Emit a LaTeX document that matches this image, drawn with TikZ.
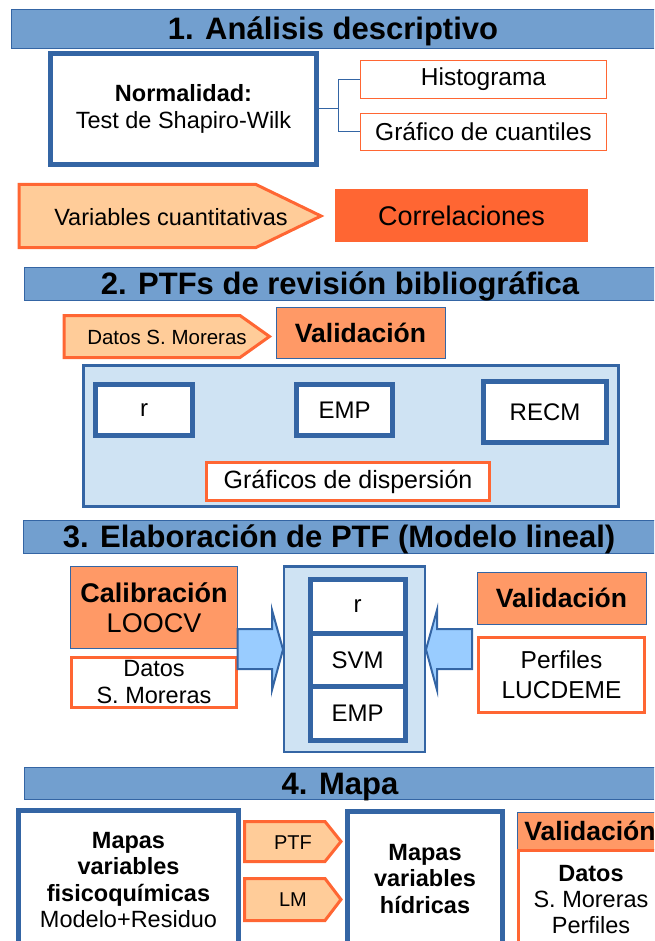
\documentclass[tikz,border=0pt]{standalone}
\usepackage{fontspec}
\setmainfont{Liberation Sans}
\usetikzlibrary{positioning}

\definecolor{azulbarra}{HTML}{729FCF}
\definecolor{azul}{HTML}{3465A4}
\definecolor{naranja}{HTML}{FF6633}
\definecolor{naranjaclaro}{HTML}{FFCC99}
\definecolor{salmon}{HTML}{FF9966}
\definecolor{celeste}{HTML}{CFE3F3}
\definecolor{flechaazul}{HTML}{99CCFF}

\newcommand{\tam}[2]{\fontsize{#1}{#2}\selectfont}

\tikzset{
  barra/.style={draw=azul, line width=0.8pt, fill=azulbarra, inner sep=0pt,
    minimum width=632pt, minimum height=33pt, text height=22pt, text depth=0pt,
    font=\tam{31}{36}\bfseries},
  caja/.style={draw=azul, line width=5pt, fill=white, inner sep=0pt,
    outer sep=0pt, align=center},
  marco/.style={draw=naranja, line width=3pt, fill=white, inner sep=0pt, align=center},
  fino/.style={draw=naranja, line width=1.2pt, fill=white, inner sep=0pt},
  valida/.style={draw=azul, line width=0.8pt, fill=salmon, inner sep=0pt, align=center},
  fondo/.style={draw=azul, line width=2.5pt, fill=celeste},
  punta/.style={draw=naranja, line width=3pt, fill=naranjaclaro},
  bloque/.style={draw=azul, line width=2pt, fill=flechaazul},
  rama/.style={draw=azul, line width=1pt},
}

\begin{document}
\begin{tikzpicture}[x=1pt, y=-1pt]
  \useasboundingbox (0,0) rectangle (654,941);
  \clip (0,0) rectangle (654,941);

  % 1. analisis descriptivo
  \node[barra, minimum width=644pt, minimum height=39pt] (t1) at (333,28.5) {1. Análisis descriptivo};
  \node[caja, minimum width=266pt, minimum height=111pt, font=\tam{23.5}{27}] (normal) at (183.5,109)
    {\textbf{Normalidad:}\\Test de Shapiro-Wilk};
  \node[fino, minimum width=246pt, minimum height=38pt, font=\tam{24.5}{29}] (histo) at (483.5,79.5) {Histograma};
  \node[fino, minimum width=246pt, minimum height=37pt, font=\tam{24.5}{29}] (cuant) at (483.5,132) {Gráfico de cuantiles};
  \draw[rama] (normal.east) -- ++(22,0) coordinate (nudo);
  \draw[rama] (histo.west) -| (nudo) |- (cuant.west);
  \draw[punta] (19,184.5) -- (256,184.5) -- (321,216) -- (256,247.5) -- (19,247.5) -- cycle;
  \node[font=\tam{23.5}{28}] (varcuant) at (171,217) {Variables cuantitativas};
  \node[fill=naranja, minimum width=253pt, minimum height=53pt, font=\tam{27}{32}] (correl) at (461.5,215.5) {Correlaciones};

  % 2. PTFs de revision
  \node[barra] (t2) at (340,283.5) {2. PTFs de revisión bibliográfica};
  \draw[punta] (64,315.5) -- (240,315.5) -- (269.5,336.5) -- (240,357.5) -- (64,357.5) -- cycle;
  \node[font=\tam{20.5}{24}] (datos2) at (167,337) {Datos S. Moreras};
  \node[valida, minimum width=169pt, minimum height=51pt, font=\tam{26.5}{31}\bfseries] (valid2) at (360.5,332.5) {Validación};
  \node[fondo, minimum width=535pt, minimum height=141pt] (marco2) at (351,436) {};
  \node[caja, minimum width=97pt, minimum height=51pt, font=\tam{24}{29}] (r2) at (144,410) {r};
  \node[caja, minimum width=96pt, minimum height=51pt, font=\tam{24}{29}] (emp2) at (344.5,410) {EMP};
  \node[caja, minimum width=123pt, minimum height=61pt, font=\tam{24}{29}] (recm) at (545,412) {RECM};
  \node[marco, minimum width=283pt, minimum height=38pt, font=\tam{25}{30}] (disp) at (348,481.5) {Gráficos de dispersión};

  % 3. elaboracion de PTF
  \node[barra] (t3) at (339,536.5) {3. Elaboración de PTF (Modelo lineal)};
  \node[valida, minimum width=167pt, minimum height=82pt, font=\tam{27}{30}] (calib) at (154,607.5)
    {\textbf{Calibración}\\LOOCV};
  \node[marco, minimum width=165pt, minimum height=50pt, font=\tam{23.5}{27}] (datos3) at (154,682.5) {Datos\\S. Moreras};
  \node[fondo, minimum width=141pt, minimum height=185.5pt] (marco3) at (354.25,659) {};
  \node[caja, minimum width=95pt, minimum height=53.5pt, font=\tam{24}{29}] (r3) at (357.5,606.25) {r};
  \node[caja, minimum width=95pt, minimum height=53.5pt, font=\tam{24}{29}, below=0pt of r3] (svm) {SVM};
  \node[caja, minimum width=95pt, minimum height=53.5pt, font=\tam{24}{29}, below=0pt of svm] (emp3) {EMP};
  \draw[bloque] (283,649.5) -- (272,610) -- (272,629) -- (237.5,629) -- (237.5,669) -- (272,669) -- (272,690) -- cycle;
  \draw[bloque] (426,649.5) -- (437,610) -- (437,629) -- (472,629) -- (472,669) -- (437,669) -- (437,690) -- cycle;
  \node[valida, minimum width=169pt, minimum height=52pt, font=\tam{26.5}{31}\bfseries] (valid3) at (561.5,598) {Validación};
  \node[marco, minimum width=166pt, minimum height=75pt, font=\tam{24.5}{30}] (perf) at (561.5,675) {Perfiles\\LUCDEME};

  % 4. mapa
  \node[barra, minimum height=32pt] (t4) at (340,783) {4. Mapa};
  \node[caja, minimum width=220pt, minimum height=139pt, font=\tam{23.5}{26.5}] (mapfis) at (128.5,880)
    {\textbf{Mapas}\\\textbf{variables}\\\textbf{fisicoquímicas}\\Modelo+Residuo};
  \draw[punta] (244.5,821.5) -- (325,821.5) -- (341,841.5) -- (325,861.5) -- (244.5,861.5) -- cycle;
  \node[font=\tam{20}{24}] (ptf) at (293,843) {PTF};
  \draw[punta] (244.5,878.5) -- (325,878.5) -- (341,899.5) -- (325,920.5) -- (244.5,920.5) -- cycle;
  \node[font=\tam{20}{24}] (lm) at (293,900) {LM};
  \node[caja, minimum width=155pt, minimum height=135pt, font=\tam{23.5}{26.5}\bfseries] (maphid) at (425,879)
    {Mapas\\variables\\hídricas};
  \node[valida, minimum width=146pt, minimum height=37pt, font=\tam{26.5}{31}\bfseries] (valid4) at (590,830.5) {Validación};
  \node[marco, minimum width=145pt, minimum height=99pt, font=\tam{23.5}{26}] (datos4) at (591,900)
    {\textbf{Datos}\\S. Moreras\\Perfiles};
\end{tikzpicture}
\end{document}
